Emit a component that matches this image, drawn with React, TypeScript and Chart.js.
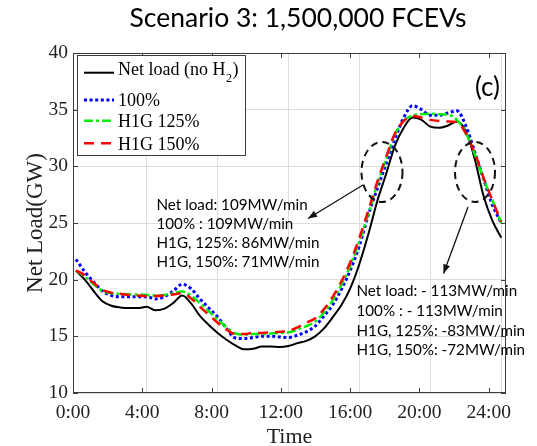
import React, { useEffect, useRef } from "react";
import { Chart, registerables } from "chart.js";

Chart.register(...registerables);

// ---------- data ----------
const hours = [0, 0.5, 1, 1.5, 2, 2.5, 3, 3.5, 4, 4.5, 5, 5.5, 6, 6.5, 7, 7.5, 8, 8.5, 9, 9.5, 10, 10.5, 11, 11.5, 12, 12.5, 13, 13.5, 14, 14.5, 15, 15.5, 16, 16.5, 17, 17.5, 18, 18.5, 19, 19.5, 20, 20.5, 21, 21.5, 22, 22.5, 23, 23.5, 24];

const netLoad = [20.8, 20.0, 19.0, 18.1, 17.7, 17.55, 17.5, 17.5, 17.6, 17.3, 17.45, 17.95, 18.6, 17.9, 16.8, 16.0, 15.3, 14.7, 14.2, 13.85, 13.9, 14.1, 14.1, 14.05, 14.15, 14.4, 14.6, 15.0, 15.7, 16.7, 17.8, 19.3, 21.4, 24.0, 26.9, 29.3, 31.8, 33.4, 34.3, 34.1, 33.5, 33.4, 33.6, 33.95, 33.1, 30.7, 27.4, 25.2, 23.7];

const pct100 = [21.8, 20.7, 19.8, 19.0, 18.6, 18.5, 18.5, 18.5, 18.5, 18.3, 18.5, 19.0, 19.6, 19.2, 18.3, 17.5, 16.7, 15.7, 14.85, 14.8, 14.9, 15.0, 15.0, 14.95, 14.9, 15.1, 15.4, 15.9, 16.8, 17.8, 19.2, 20.9, 23.0, 25.7, 28.0, 30.2, 32.4, 34.3, 35.35, 35.0, 34.5, 34.5, 34.7, 34.9, 33.6, 31.3, 28.9, 26.6, 25.0];

const h1g125 = [20.8, 20.3, 19.6, 19.0, 18.8, 18.75, 18.7, 18.7, 18.65, 18.6, 18.65, 18.8, 18.95, 18.6, 17.9, 17.2, 16.5, 15.8, 15.25, 15.15, 15.2, 15.2, 15.25, 15.3, 15.35, 15.6, 15.9, 16.3, 17.1, 18.2, 19.6, 21.3, 23.4, 25.8, 28.4, 30.6, 32.8, 34.0, 34.5, 34.6, 34.65, 34.6, 34.55, 34.1, 33.0, 31.1, 28.9, 27.0, 25.0];

const h1g150 = [20.8, 20.4, 19.7, 19.1, 18.85, 18.75, 18.65, 18.6, 18.55, 18.55, 18.6, 18.7, 18.8, 18.35, 17.6, 16.9, 16.2, 15.6, 15.2, 15.2, 15.3, 15.3, 15.35, 15.4, 15.5, 15.8, 16.2, 16.6, 17.4, 18.5, 19.9, 21.6, 23.7, 26.1, 28.6, 30.8, 32.9, 34.0, 34.45, 34.3, 34.1, 34.0, 33.95, 33.9, 32.9, 31.2, 29.0, 27.0, 25.1];

const seriesNames = ["Net load (no H", "100%", "H1G 125%", "H1G 150%"];
const tickHours = [0, 4, 8, 12, 16, 20, 24];
const tickLabels = ["0:00", "4:00", "8:00", "12:00", "16:00", "20:00", "24:00"];
const gridHours = [4, 8, 12, 16, 20, 24];
const yTicks = [10, 15, 20, 25, 30, 35, 40];

const titleText = "Scenario 3: 1,500,000 FCEVs";
const xTitle = "Time";
const yTitle = "Net Load(GW)";
const panelTag = "(c)";
const leftNotes = ["Net load: 109MW/min", "100% : 109MW/min", "H1G, 125%: 86MW/min", "H1G, 150%: 71MW/min"];
const rightNotes = ["Net load: - 113MW/min", "100% : - 113MW/min", "H1G, 125%: -83MW/min", "H1G, 150%: -72MW/min"];

const SERIF = "'Liberation Serif', 'Times New Roman', serif";
const SANS = "Lato, 'Open Sans', sans-serif";

function toPoints(vals: number[]) {
  return hours.map((h, i) => ({ x: h, y: vals[i] }));
}

function arrow(ctx: CanvasRenderingContext2D, x1: number, y1: number, x2: number, y2: number) {
  ctx.beginPath();
  ctx.moveTo(x1, y1);
  ctx.lineTo(x2, y2);
  ctx.stroke();
  const a = Math.atan2(y2 - y1, x2 - x1);
  const L = 9, W = 3.5;
  ctx.beginPath();
  ctx.moveTo(x2, y2);
  ctx.lineTo(x2 - L * Math.cos(a) + W * Math.sin(a), y2 - L * Math.sin(a) - W * Math.cos(a));
  ctx.lineTo(x2 - L * Math.cos(a) - W * Math.sin(a), y2 - L * Math.sin(a) + W * Math.cos(a));
  ctx.closePath();
  ctx.fill();
}

const overlayPlugin = {
  id: "overlay",
  afterDatasetsDraw(chart: any) {
    const { ctx, chartArea: ca } = chart;
    const xl = chart.scales.xl;
    const y = chart.scales.y;
    ctx.save();

    // axes box
    ctx.setLineDash([]);
    ctx.strokeStyle = "#3c3c3c";
    ctx.lineWidth = 1;
    ctx.strokeRect(ca.left + 0.5, ca.top + 0.5, ca.right - ca.left - 1, ca.bottom - ca.top - 1);

    // inward tick marks
    ctx.beginPath();
    tickHours.forEach((v) => {
      const px = Math.round(xl.getPixelForValue(v)) + 0.5;
      ctx.moveTo(px, ca.bottom);
      ctx.lineTo(px, ca.bottom - 5);
      ctx.moveTo(px, ca.top);
      ctx.lineTo(px, ca.top + 5);
    });
    yTicks.forEach((v) => {
      const py = Math.round(y.getPixelForValue(v)) + 0.5;
      ctx.moveTo(ca.left, py);
      ctx.lineTo(ca.left + 5, py);
      ctx.moveTo(ca.right, py);
      ctx.lineTo(ca.right - 5, py);
    });
    ctx.stroke();

    // dashed ellipses
    ctx.strokeStyle = "#111";
    ctx.lineWidth = 2;
    ctx.setLineDash([7, 5]);
    ctx.beginPath();
    ctx.ellipse(382, 172, 20.5, 30, 0, 0, Math.PI * 2);
    ctx.stroke();
    ctx.beginPath();
    ctx.ellipse(475, 172, 20, 30, 0, 0, Math.PI * 2);
    ctx.stroke();

    // arrows
    ctx.setLineDash([]);
    ctx.lineWidth = 1.3;
    ctx.fillStyle = "#111";
    arrow(ctx, 363, 185, 308, 218.5);
    arrow(ctx, 468, 207, 443.5, 273.5);

    // notes
    ctx.fillStyle = "#000";
    ctx.font = `15.2px ${SANS}`;
    ctx.textAlign = "left";
    ctx.textBaseline = "alphabetic";
    const lb = [210, 229, 248.3, 267.3];
    leftNotes.forEach((t, i) => ctx.fillText(t, 156.5, lb[i]));
    const rb = [296, 315.5, 335.5, 355];
    rightNotes.forEach((t, i) => ctx.fillText(t, 356.5, rb[i]));

    // panel tag
    ctx.font = `26px ${SANS}`;
    ctx.textAlign = "center";
    ctx.fillText(panelTag, 487.5, 96);

    // legend
    ctx.fillStyle = "#fff";
    ctx.fillRect(77, 55, 168, 100);
    ctx.strokeStyle = "#3c3c3c";
    ctx.lineWidth = 1;
    ctx.strokeRect(77.5, 55.5, 168, 100);
    const lineY = [72.7, 100, 120.7, 143.3];
    const textY = [75, 106, 127.3, 150];
    chart.data.datasets.forEach((ds: any, i: number) => {
      ctx.strokeStyle = ds.borderColor;
      ctx.lineWidth = ds.borderWidth;
      ctx.setLineDash(ds.borderDash || []);
      ctx.beginPath();
      ctx.moveTo(84, lineY[i]);
      ctx.lineTo(114, lineY[i]);
      ctx.stroke();
      ctx.setLineDash([]);
      ctx.fillStyle = "#000";
      ctx.textAlign = "left";
      ctx.font = `18px ${SERIF}`;
      ctx.fillText(seriesNames[i], 118, textY[i]);
      if (i === 0) {
        const w = ctx.measureText(seriesNames[i]).width;
        ctx.font = `12px ${SERIF}`;
        ctx.fillText("2", 118 + w + 0.5, 81.5);
        const w2 = ctx.measureText("2").width;
        ctx.font = `18px ${SERIF}`;
        ctx.fillText(")", 118 + w + w2 + 1, textY[i]);
      }
    });

    ctx.restore();
  },
  afterDraw(chart: any) {
    const { ctx, chartArea: ca } = chart;
    ctx.save();
    ctx.fillStyle = "#000";
    // chart title
    ctx.font = `26.5px ${SANS}`;
    ctx.textAlign = "center";
    ctx.textBaseline = "alphabetic";
    ctx.fillText(titleText, 298, 27);
    // x title
    ctx.font = `22px ${SERIF}`;
    ctx.fillStyle = "#222";
    ctx.fillText(xTitle, (ca.left + ca.right) / 2, 443);
    // y title
    ctx.translate(41.5, (ca.top + ca.bottom) / 2);
    ctx.rotate(-Math.PI / 2);
    ctx.font = `23px ${SERIF}`;
    ctx.fillText(yTitle, 0, 0);
    ctx.restore();
  },
};

export default function App() {
  const ref = useRef<HTMLCanvasElement | null>(null);

  useEffect(() => {
    if (!ref.current) return;
    const chart = new Chart(ref.current, {
      type: "line",
      data: {
        datasets: [
          {
            label: "Net load (no H2)",
            data: toPoints(netLoad),
            borderColor: "#000000",
            borderWidth: 2,
            pointRadius: 0,
            cubicInterpolationMode: "monotone",
            order: 3,
          },
          {
            label: "100%",
            data: toPoints(pct100),
            borderColor: "#0000ff",
            borderWidth: 3,
            borderDash: [3, 2.6],
            pointRadius: 0,
            cubicInterpolationMode: "monotone",
            order: 2,
          },
          {
            label: "H1G 125%",
            data: toPoints(h1g125),
            borderColor: "#00ee00",
            borderWidth: 2.5,
            borderDash: [9, 3, 3, 3],
            pointRadius: 0,
            cubicInterpolationMode: "monotone",
            order: 1,
          },
          {
            label: "H1G 150%",
            data: toPoints(h1g150),
            borderColor: "#ff0000",
            borderWidth: 2.5,
            borderDash: [10, 7],
            pointRadius: 0,
            cubicInterpolationMode: "monotone",
            order: 0,
          },
        ],
      } as any,
      options: {
        responsive: false,
        animation: false,
        devicePixelRatio: 1,
        layout: { padding: { top: 53, right: 31, bottom: 0, left: 0 } },
        plugins: {
          legend: { display: false },
          title: { display: false },
          tooltip: { enabled: false },
        },
        scales: {
          x: {
            type: "linear",
            position: "bottom",
            min: -0.164,
            max: 24.27,
            afterBuildTicks: (s: any) => {
              s.ticks = gridHours.map((v) => ({ value: v }));
            },
            afterFit: (s: any) => {
              s.height = 0;
            },
            ticks: { display: false },
            grid: { color: "#dddddd", lineWidth: 1, drawTicks: false },
            border: { display: false },
          },
          xl: {
            type: "linear",
            position: "bottom",
            min: 0,
            max: 25,
            afterBuildTicks: (s: any) => {
              s.ticks = tickHours.map((v) => ({ value: v }));
            },
            afterFit: (s: any) => {
              s.height = 53;
            },
            ticks: {
              autoSkip: false,
              maxRotation: 0,
              padding: 8,
              color: "#222",
              font: { family: SERIF, size: 19.5 },
              callback: (v: any) => tickLabels[tickHours.indexOf(Number(v))] ?? "",
            },
            grid: { display: false, drawTicks: false },
            border: { display: false },
          },
          y: {
            type: "linear",
            min: 10,
            max: 40,
            afterBuildTicks: (s: any) => {
              s.ticks = yTicks.map((v) => ({ value: v }));
            },
            afterFit: (s: any) => {
              s.width = 73;
            },
            ticks: {
              padding: 5,
              color: "#222",
              font: { family: SERIF, size: 19.5 },
            },
            grid: { color: "#dddddd", lineWidth: 1, drawTicks: false },
            border: { display: false },
          },
        },
      } as any,
      plugins: [overlayPlugin],
    });
    return () => chart.destroy();
  }, []);

  return (
    <div style={{ position: "absolute", left: 0, top: 0, width: 537, height: 446, background: "#fff" }}>
      <canvas ref={ref} width={537} height={446} style={{ display: "block" }} />
    </div>
  );
}
